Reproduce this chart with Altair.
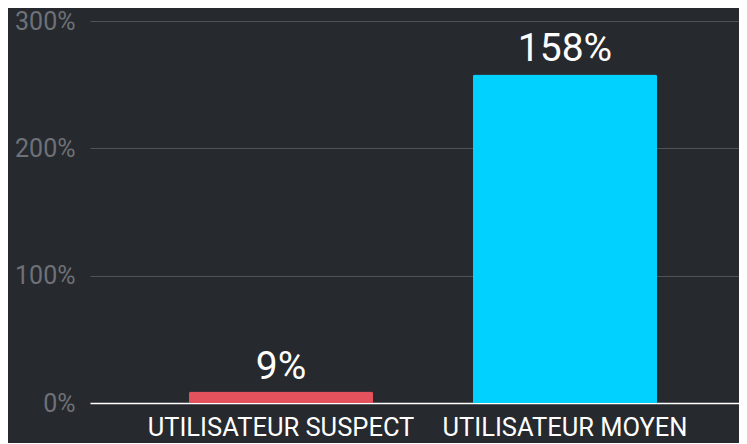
import altair as alt
import pandas as pd

categories = ["UTILISATEUR SUSPECT", "UTILISATEUR MOYEN"]
values = [9, 258]
value_labels = ["9%", "158%"]
colors = ["#e4525e", "#00d1ff"]
y_ticks = [0, 100, 200, 300]

df = pd.DataFrame({"cat": categories, "val": values, "lab": value_labels, "col": colors})

x = alt.X("cat:N", sort=categories, title=None,
          scale=alt.Scale(paddingInner=0.352, paddingOuter=0.3186, align=0.547),
          axis=alt.Axis(labelAngle=0, labelColor="#ffffff", labelFontSize=25.5, labelPadding=12,
                        labelLimit=0, ticks=False, domainColor="#ffffff", domainWidth=1.5,
                        labelFont="Roboto"))
y = alt.Y("val:Q", title=None, scale=alt.Scale(domain=[0, 300], nice=False),
          axis=alt.Axis(values=y_ticks, labelExpr="datum.value + '%'", labelColor="#6e7177",
                        labelFontSize=25, labelPadding=15, ticks=False, domain=False,
                        gridColor="#4f5358", gridWidth=1, labelFont="Roboto"))

bars = alt.Chart(df).mark_bar(cornerRadiusTopLeft=2, cornerRadiusTopRight=2).encode(
    x=x, y=y, color=alt.Color("col:N", scale=None)
)
text = alt.Chart(df).mark_text(baseline="alphabetic", dy=-13, fontSize=39, color="#ffffff", font="Roboto").encode(
    x=alt.X("cat:N", sort=categories), y="val:Q", text="lab:N"
)

chart = (bars + text).properties(
    width=649, height=382,
    autosize=alt.AutoSizeParams(type="none"),
    padding={"left": 82, "top": 13, "right": 0, "bottom": 40},
    background="#26292e",
).configure_view(stroke=None)

chart.save("out.html", embed_options={"renderer": "svg", "actions": False})
